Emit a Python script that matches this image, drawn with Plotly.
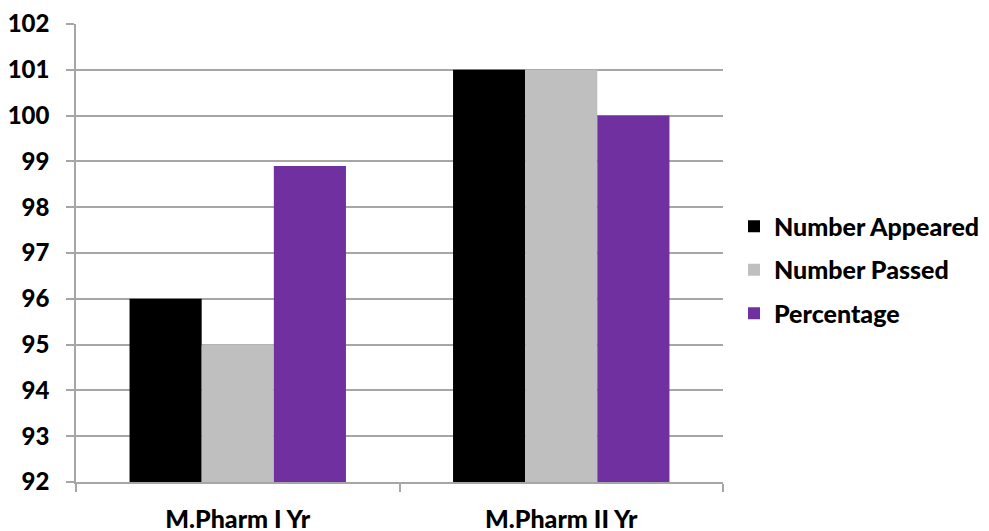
import plotly.graph_objects as go

# data
categories = ["M.Pharm I Yr", "M.Pharm II Yr"]
number_appeared = [96, 101]
number_passed = [95, 101]
percentage = [98.9, 100]

y_ticks = list(range(92, 103))

font_family = "Lato, 'Open Sans', sans-serif"

fig = go.Figure()
fig.add_trace(go.Bar(x=categories, y=number_appeared, name="Number Appeared",
                     marker=dict(color="#000000", line=dict(width=0)), legendgroup="a"))
fig.add_trace(go.Bar(x=categories, y=number_passed, name="Number Passed",
                     marker=dict(color="#bfbfbf", line=dict(width=0)), legendgroup="b"))
fig.add_trace(go.Bar(x=categories, y=percentage, name="Percentage",
                     marker=dict(color="#7030a0", line=dict(width=0)), legendgroup="c"))

# the page body adds 8px, so margins are shifted to compensate
fig.update_layout(
    width=989, height=531,
    margin=dict(l=68, r=272, t=16, b=57),
    plot_bgcolor="white", paper_bgcolor="white",
    barmode="group", bargap=0.331, bargroupgap=0,
    font=dict(family=font_family, size=24, color="black", weight=900),
    legend=dict(x=1.017, y=0.463, xanchor="left", yanchor="middle",
                traceorder="grouped", tracegroupgap=8,
                font=dict(size=25, weight=900), itemwidth=30),
    showlegend=True,
)
fig.update_yaxes(range=[92, 102], tickvals=y_ticks, showgrid=True, gridcolor="#a6a6a6",
                 gridwidth=1.5, showline=True, linecolor="#a6a6a6", linewidth=1.5,
                 ticks="outside", ticklen=8, tickcolor="#a6a6a6", tickwidth=1.5,
                 ticklabelstandoff=12, zeroline=False, automargin=False,
                 tickfont=dict(size=24, weight=900))
fig.update_xaxes(showline=True, linecolor="#a6a6a6", linewidth=1.5,
                 ticks="outside", tickson="boundaries", ticklen=8, tickcolor="#a6a6a6",
                 tickwidth=1.5, ticklabelstandoff=14, automargin=False,
                 tickfont=dict(size=25, weight=900))

fig.write_html("out.html")
